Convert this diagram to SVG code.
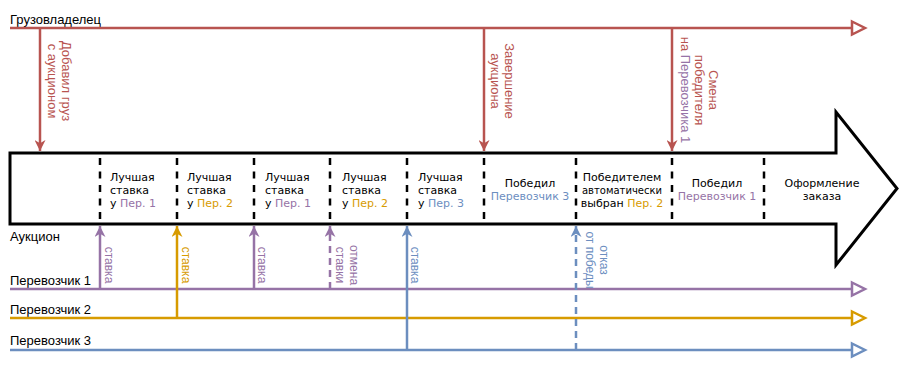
<svg xmlns="http://www.w3.org/2000/svg" width="900" height="375" viewBox="0 0 900 375">
<style>
.lbl{font-family:"Liberation Sans",Arial,sans-serif;font-size:13px;fill:#000}
.rl{font-family:"Liberation Sans",Arial,sans-serif;font-size:13px;fill:#B85450;text-anchor:middle}
.sl{font-family:"Liberation Sans",Arial,sans-serif;font-size:12px;text-anchor:middle}
.cell{font-family:"DejaVu Sans",Verdana,sans-serif;font-size:11px;fill:#000}
.mid{text-anchor:middle}
.div{stroke:#000;stroke-width:2.5;stroke-dasharray:7 6.5;fill:none}
.p{fill:#9673A6}.y{fill:#D79B00}.b{fill:#6C8EBF}
</style>
<defs>
<marker id="mr" viewBox="0 0 10 10" refX="10" refY="5" markerWidth="4.4" markerHeight="4.4" orient="auto" markerUnits="strokeWidth"><path d="M0,0 L10,5 L0,10 L3,5 z" fill="#B85450"/></marker>
<marker id="mp" viewBox="0 0 10 10" refX="10" refY="5" markerWidth="4.4" markerHeight="4.4" orient="auto" markerUnits="strokeWidth"><path d="M0,0 L10,5 L0,10 L3,5 z" fill="#9673A6"/></marker>
<marker id="my" viewBox="0 0 10 10" refX="10" refY="5" markerWidth="4.4" markerHeight="4.4" orient="auto" markerUnits="strokeWidth"><path d="M0,0 L10,5 L0,10 L3,5 z" fill="#D79B00"/></marker>
<marker id="mb" viewBox="0 0 10 10" refX="10" refY="5" markerWidth="4.4" markerHeight="4.4" orient="auto" markerUnits="strokeWidth"><path d="M0,0 L10,5 L0,10 L3,5 z" fill="#6C8EBF"/></marker>
</defs>

<g id="shipper">
<text class="lbl" x="10" y="24">Грузовладелец</text>
<line x1="10" y1="28" x2="853" y2="28" stroke="#B85450" stroke-width="2.5"/>
<path d="M852,21.5 L865,28 L852,34.5 Z" fill="#fff" stroke="#B85450" stroke-width="2.5"/>
</g>

<g id="auction">
<path d="M10,153 L836,153 L836,112 L897,188.5 L836,265 L836,224 L10,224 Z" fill="#fff" stroke="#000" stroke-width="3"/>
<text class="lbl" x="10" y="241">Аукцион</text>
<line class="div" x1="100" y1="158" x2="100" y2="221"/>
<line class="div" x1="177" y1="158" x2="177" y2="221"/>
<line class="div" x1="254" y1="158" x2="254" y2="221"/>
<line class="div" x1="330" y1="158" x2="330" y2="221"/>
<line class="div" x1="407" y1="158" x2="407" y2="221"/>
<line class="div" x1="484" y1="158" x2="484" y2="221"/>
<line class="div" x1="576" y1="158" x2="576" y2="221"/>
<line class="div" x1="672" y1="158" x2="672" y2="221"/>
<line class="div" x1="764" y1="158" x2="764" y2="221"/>
<text class="cell" x="110" y="181">Лучшая<tspan x="110" y="194">ставка</tspan><tspan x="110" y="207">у <tspan class="p">Пер. 1</tspan></tspan></text>
<text class="cell" x="187" y="181">Лучшая<tspan x="187" y="194">ставка</tspan><tspan x="187" y="207">у <tspan class="y">Пер. 2</tspan></tspan></text>
<text class="cell" x="265" y="181">Лучшая<tspan x="265" y="194">ставка</tspan><tspan x="265" y="207">у <tspan class="p">Пер. 1</tspan></tspan></text>
<text class="cell" x="342" y="181">Лучшая<tspan x="342" y="194">ставка</tspan><tspan x="342" y="207">у <tspan class="y">Пер. 2</tspan></tspan></text>
<text class="cell" x="418" y="181">Лучшая<tspan x="418" y="194">ставка</tspan><tspan x="418" y="207">у <tspan class="b">Пер. 3</tspan></tspan></text>
<text class="cell mid" x="530" y="187">Победил<tspan class="b" x="530" y="200">Перевозчик 3</tspan></text>
<text class="cell mid" x="622" y="181">Победителем<tspan x="622" y="194" textLength="80" lengthAdjust="spacingAndGlyphs">автоматически</tspan><tspan x="622" y="207">выбран <tspan class="y">Пер. 2</tspan></tspan></text>
<text class="cell mid" x="717" y="187">Победил<tspan class="p" x="717" y="200">Перевозчик 1</tspan></text>
<text class="cell mid" x="822" y="187">Оформление<tspan x="822" y="200">заказа</tspan></text>
</g>

<g id="carrier1">
<text class="lbl" x="10" y="285">Перевозчик 1</text>
<line x1="10" y1="289" x2="853" y2="289" stroke="#9673A6" stroke-width="2.5"/>
<path d="M852,282.5 L865,289 L852,295.5 Z" fill="#fff" stroke="#9673A6" stroke-width="2.5"/>
</g>
<g id="carrier2">
<text class="lbl" x="10" y="314">Перевозчик 2</text>
<line x1="10" y1="318" x2="853" y2="318" stroke="#D79B00" stroke-width="2.5"/>
<path d="M852,311.5 L865,318 L852,324.5 Z" fill="#fff" stroke="#D79B00" stroke-width="2.5"/>
</g>
<g id="carrier3">
<text class="lbl" x="10" y="345">Перевозчик 3</text>
<line x1="10" y1="350" x2="853" y2="350" stroke="#6C8EBF" stroke-width="2.5"/>
<path d="M852,343.5 L865,350 L852,356.5 Z" fill="#fff" stroke="#6C8EBF" stroke-width="2.5"/>
</g>

<g id="connectors" fill="none" stroke-width="2.5">
<line x1="40" y1="28" x2="40" y2="151" stroke="#B85450" marker-end="url(#mr)"/>
<line x1="484" y1="28" x2="484" y2="151" stroke="#B85450" marker-end="url(#mr)"/>
<line x1="672" y1="28" x2="672" y2="151" stroke="#B85450" marker-end="url(#mr)"/>
<line x1="100" y1="289" x2="100" y2="226" stroke="#9673A6" marker-end="url(#mp)"/>
<line x1="177" y1="318" x2="177" y2="226" stroke="#D79B00" marker-end="url(#my)"/>
<line x1="254" y1="289" x2="254" y2="226" stroke="#9673A6" marker-end="url(#mp)"/>
<line x1="330" y1="289" x2="330" y2="226" stroke="#9673A6" stroke-dasharray="7 5" marker-end="url(#mp)"/>
<line x1="407" y1="350" x2="407" y2="226" stroke="#6C8EBF" marker-end="url(#mb)"/>
<line x1="576" y1="350" x2="576" y2="226" stroke="#6C8EBF" stroke-dasharray="7 5" marker-end="url(#mb)"/>
</g>

<g id="connector-labels">
<text class="rl" transform="translate(62,81) rotate(90)">Добавил груз<tspan x="0" dy="14">с аукционом</tspan></text>
<text class="rl" transform="translate(505,81) rotate(90)">Завершение<tspan x="0" dy="14">аукциона</tspan></text>
<text class="rl" transform="translate(709,90) rotate(90)">Смена<tspan x="0" dy="14">победителя</tspan><tspan x="0" dy="14">на <tspan class="p">Перевозчика 1</tspan></tspan></text>
<text class="sl p" transform="translate(105,265) rotate(90)">ставка</text>
<text class="sl y" transform="translate(182,265) rotate(90)">ставка</text>
<text class="sl p" transform="translate(258,265) rotate(90)">ставка</text>
<text class="sl p" transform="translate(350,265) rotate(90)">отмена<tspan x="0" dy="14">ставки</tspan></text>
<text class="sl b" transform="translate(411,265) rotate(90)">ставка</text>
<text class="sl b" transform="translate(600,260) rotate(90)">отказ<tspan x="0" dy="14">от победы</tspan></text>
</g>
</svg>
